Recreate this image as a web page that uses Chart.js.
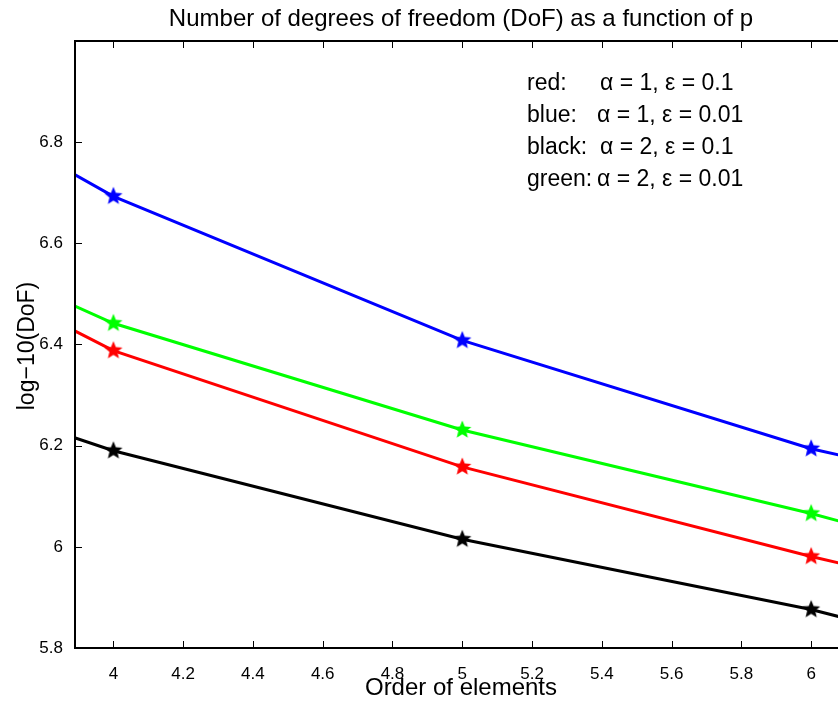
<!DOCTYPE html>
<html>
<head>
<meta charset="utf-8">
<script src="https://cdn.jsdelivr.net/npm/chart.js@4/dist/chart.umd.min.js"></script>
<style>
  html, body { margin: 0; padding: 0; background: #fff; }
  canvas { display: block; }
</style>
</head>
<body>
<canvas id="dofChart" width="838" height="702"></canvas>
<script>
// order of elements p (3 and 7 lie outside the visible window, lines run off the edges)
const orders = [3, 4, 5, 6, 7];
const redDof = [6.74, 6.388, 6.158, 5.981, 5.82];
const blueDof = [7.08, 6.693, 6.408, 6.194, 6.04];
const blackDof = [6.42, 6.190, 6.015, 5.876, 5.70];
const greenDof = [6.75, 6.442, 6.231, 6.066, 5.88];

const xTicks = [4, 4.2, 4.4, 4.6, 4.8, 5, 5.2, 5.4, 5.6, 5.8, 6];
const yTicks = [5.8, 6, 6.2, 6.4, 6.6, 6.8];

const legendLabels = ['red:', 'blue:', 'black:', 'green:'];
const legendValues = ['\u03B1 = 1, \u03B5 = 0.1', '\u03B1 = 1, \u03B5 = 0.01', '\u03B1 = 2, \u03B5 = 0.1', '\u03B1 = 2, \u03B5 = 0.01'];

const FONT = '"Liberation Sans", Arial, Helvetica, sans-serif';

function starImage(color) {
  const size = 22;
  const c = document.createElement('canvas');
  c.width = size;
  c.height = size;
  const ctx = c.getContext('2d');
  const cx = size / 2, cy = size / 2;
  const outer = 9.5, inner = 4.2;
  ctx.beginPath();
  for (let i = 0; i < 10; i++) {
    const r = i % 2 === 0 ? outer : inner;
    const a = -Math.PI / 2 + i * Math.PI / 5;
    const x = cx + r * Math.cos(a);
    const y = cy + r * Math.sin(a);
    if (i === 0) ctx.moveTo(x, y); else ctx.lineTo(x, y);
  }
  ctx.closePath();
  ctx.fillStyle = color;
  ctx.fill();
  return c;
}

function series(values, color) {
  return {
    data: orders.map((p, i) => ({ x: p, y: values[i] })),
    borderColor: color,
    backgroundColor: color,
    borderWidth: 3,
    pointStyle: starImage(color),
    pointRadius: 10,
    tension: 0
  };
}

// matlab-like axes box with inward ticks, plus title, axis labels and the text legend
const boxPlugin = {
  id: 'matlabBox',
  afterDraw(chart) {
    const { ctx, chartArea } = chart;
    const { left, right, top, bottom } = chartArea;
    const xs = chart.scales.x, ys = chart.scales.y;
    ctx.save();
    ctx.strokeStyle = '#000';
    ctx.lineWidth = 2;
    ctx.beginPath();
    ctx.moveTo(right + 2, top);
    ctx.lineTo(left, top);
    ctx.lineTo(left, bottom);
    ctx.lineTo(right + 2, bottom);
    ctx.stroke();

    ctx.lineWidth = 1;
    ctx.beginPath();
    xTicks.forEach(v => {
      const x = Math.round(xs.getPixelForValue(v)) + 0.5;
      ctx.moveTo(x, bottom);
      ctx.lineTo(x, bottom - 7);
      ctx.moveTo(x, top);
      ctx.lineTo(x, top + 7);
    });
    yTicks.forEach(v => {
      const y = Math.round(ys.getPixelForValue(v)) + 0.5;
      ctx.moveTo(left, y);
      ctx.lineTo(left + 7, y);
    });
    ctx.stroke();

    ctx.fillStyle = '#000';
    ctx.textAlign = 'center';
    ctx.textBaseline = 'alphabetic';

    ctx.font = '24px ' + FONT;
    ctx.fillText('Number of degrees of freedom (DoF) as a function of p', 461, 26);

    ctx.fillText('Order of elements', 461, 695);
    ctx.save();
    ctx.translate(28, 346);
    ctx.rotate(-Math.PI / 2);
    ctx.textBaseline = 'middle';
    ctx.font = '23px ' + FONT;
    ctx.fillText('log\u221210(DoF)', 0, 0);
    ctx.restore();

    ctx.font = '23px ' + FONT;
    ctx.textAlign = 'left';
    ctx.textBaseline = 'middle';
    const valueX = [600, 597, 600, 597];
    legendLabels.forEach((lab, i) => {
      const y = 84 + i * 32;
      ctx.fillText(lab, 527, y);
      ctx.fillText(legendValues[i], valueX[i], y);
    });
    ctx.restore();
  }
};

new Chart(document.getElementById('dofChart'), {
  type: 'line',
  data: {
    datasets: [
      series(blueDof, '#0000ff'),
      series(greenDof, '#00ff00'),
      series(redDof, '#ff0000'),
      series(blackDof, '#000000')
    ]
  },
  options: {
    responsive: false,
    animation: false,
    layout: { autoPadding: false, padding: { top: 41, right: 0, left: 0, bottom: 0 } },
    plugins: {
      legend: { display: false },
      tooltip: { enabled: false },
      title: { display: false }
    },
    scales: {
      x: {
        type: 'linear',
        min: 3.89,
        max: 6.077,
        grid: { display: false },
        border: { display: false },
        afterBuildTicks: s => { s.ticks = xTicks.map(v => ({ value: v })); },
        afterFit: s => { s.height = 54; s.paddingLeft = 0; s.paddingRight = 0; },
        ticks: {
          padding: 8,
          color: '#000',
          font: { family: FONT, size: 17 },
          callback: v => String(v)
        }
      },
      y: {
        min: 5.8,
        max: 7.0,
        grid: { display: false },
        border: { display: false },
        afterBuildTicks: s => { s.ticks = yTicks.map(v => ({ value: v })); },
        afterFit: s => { s.width = 75; s.paddingTop = 0; s.paddingBottom = 0; },
        ticks: {
          padding: 4,
          color: '#000',
          font: { family: FONT, size: 17 },
          callback: v => String(v)
        }
      }
    }
  },
  plugins: [boxPlugin]
});
</script>
</body>
</html>
